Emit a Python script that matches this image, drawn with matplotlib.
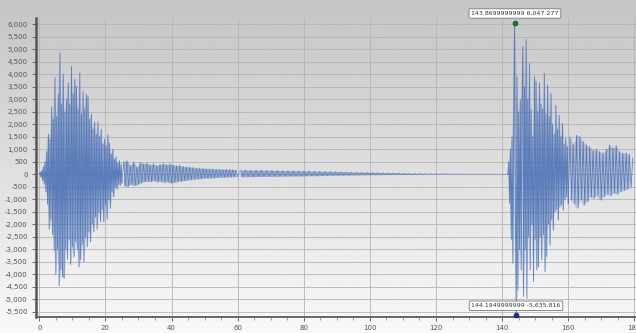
import numpy as np
import matplotlib
matplotlib.use("Agg")
import matplotlib.pyplot as plt
from matplotlib.ticker import FuncFormatter, MultipleLocator

# ---- data (segments: start, step, values) ----
burst1_start, burst1_step = 0.0, 0.25
burst1_vals = [
    0, 80, -120, 150, -250, 300, -400, 500, -700, 900,
    -1200, 1600, -2200, 1400, -1800, 2700, -2400, 2200, -3050, 3850,
    -4000, 2300, -3000, 3200, -4450, 4850, -3800, 2800, -4100, 4000,
    -4150, 2500, -3000, 3000, -3400, 3650, -2600, 2800, -3600, 4300,
    -2900, 3200, -3300, 3800, -2700, 3500, -3000, 2600, -3700, 4050,
    -3400, 2400, -2800, 3300, -3500, 2600, -2500, 3200, -2900, 3100,
    -2300, 2200, -2700, 2400, -2000, 1800, -2300, 2100, -1700, 1600,
    -2200, 2100, -1500, 1500, -1900, 1800, -1400, 1200, -1900, 1400,
    -1200, 1100, -1800, 1600, -1000, 1250, -1350, 800, -700, 1000,
    -900, 600, -500, 700, -600, 450, -400, 550, -450, 400,
    -350,
]

tail1_start, tail1_step = 25.5, 0.5
tail1_vals = [
    500, -450, 550, -500, 350, -400, 500, -450, 300, -420,
    480, -350, 420, -300, 450, -280, 380, -300, 420, -250,
    350, -300, 400, -280, 430, -320, 380, -300, 420, -350,
    370, -330, 350, -300, 360, -280, 320, -260, 300, -240,
    290, -220, 280, -200, 260, -190, 250, -180, 240, -160,
    230, -150, 220, -150, 220, -140, 210, -130, 210, -120,
    200, -120, 200, -110, 190, -110, 190, -100, 180, -100,
]

tail2_start, tail2_step = 60.8, 0.8
tail2_vals = [
    175, -100, 175, -95, 170, -95, 170, -90, 165, -90,
    165, -85, 160, -85, 155, -80, 150, -80, 150, -75,
    145, -75, 140, -70, 140, -65, 135, -60, 130, -60,
    125, -55, 120, -50, 115, -45, 110, -40, 105, -40,
    100, -35, 95, -30, 90, -30, 85, -25, 80, -25,
    75, -20, 70, -20, 65, -15, 60, -15, 55, -10,
    50, -10, 45, -10, 40, -5, 35, -5, 30, -5,
    28, 0, 25, 0, 22, 0, 20, 2, 18, 2,
    15, 3, 12, 3, 10, 4, 8, 4, 6, 5,
    6, 5, 6, 5, 5, 5, 5, 5, 5, 5,
    5, 5,
]

burst2_start, burst2_step = 141.75, 0.25
burst2_vals = [
    0, 500, -1160, 1000, -2620, 1500, -3550, 2500, 6047, -1500,
    -5636, 3900, -4620, 2500, -3000, 3000, -3820, 2800, 5100, -4880,
    3500, -3000, 5380, -4950, 3000, -2500, 4430, -3820, 2600, -2000,
    1500, -4280, 3900, -2600, 3700, -3820, 2500, -3690, 3640, -2500,
    2800, -3430, 2600, -2400, 4030, -3890, 2400, -3290, 3560, -2000,
    2300, -2830, 3230, -1800, 2000, -2230, 1600, -1500, 2760, -1400,
    1800, -1830, 2360, -1300, 1500, -1200, 2030, -1430, 1200, -1000,
    1430, -900, 1100, -1160,
]

tail3_start, tail3_step = 160.5, 0.5
tail3_vals = [
    1500, -1000, 1200, -1160, 1560, -1360, 1500, -1000, 1300, -1230,
    1170, -1100, 1100, -900, 950, -950, 1000, -850, 900, -1030,
    850, -900, 1000, -800, 1170, -850, 1050, -750, 1150, -800,
    900, -700, 850, -650, 850, -600, 800, -550, 650,
]

max_pt = (143.8699999999, 6047.277)
min_pt = (144.1949999999, -5635.816)
max_label = "143.8699999999 6,047.277"
min_label = "144.1949999999 -5,635.816"

segments = [
    (burst1_start, burst1_step, burst1_vals),
    (tail1_start, tail1_step, tail1_vals),
    (tail2_start, tail2_step, tail2_vals),
    (burst2_start, burst2_step, burst2_vals),
    (tail3_start, tail3_step, tail3_vals),
]
# how strongly the fine oscillation fills each segment
fill_alpha = [0.22, 0.45, 0.5, 0.18, 0.3]
line_lw = [0.65, 0.45, 0.35, 0.65, 0.6]

line_col = "#4a70b6"

# ---- figure ----
fig = plt.figure(figsize=(6.36, 3.33), dpi=100)

# grey-to-white background gradient over the whole figure
bg = fig.add_axes([0, 0, 1, 1], zorder=-10)
grad = np.linspace(0.77, 0.975, 256).reshape(-1, 1)
bg.imshow(grad, aspect="auto", cmap="gray", vmin=0, vmax=1,
          extent=[0, 1, 0, 1], origin="upper")
bg.axis("off")

ax = fig.add_axes([36 / 636, 1 - 317 / 333, 604 / 636, 299 / 333])
ax.set_facecolor("none")

prev = None
for (start, step, vals), fa, lw in zip(segments, fill_alpha, line_lw):
    t = start + step * np.arange(len(vals))
    v = np.array(vals, dtype=float)
    n = len(v) // 2 * 2
    pair = v[:n].reshape(-1, 2)
    ax.fill_between(t[0:n:2], pair.max(axis=1), pair.min(axis=1),
                    color=line_col, alpha=fa, lw=0, zorder=2)
    if prev is not None:
        t = np.r_[prev[0], t]
        v = np.r_[prev[1], v]
    ax.plot(t, v, color=line_col, lw=lw, alpha=0.85, zorder=3)
    prev = (t[-1], v[-1])

ax.set_xlim(-1, 181.7)
ax.set_ylim(-5700, 6240)

ax.xaxis.set_major_locator(MultipleLocator(20))
ax.xaxis.set_minor_locator(MultipleLocator(5))
ax.yaxis.set_major_locator(MultipleLocator(500))
ax.yaxis.set_major_formatter(FuncFormatter(lambda v, p: f"{v:,.0f}"))

ax.grid(True, which="major", color="#b4b4b4", lw=0.6)
ax.set_axisbelow(True)

for s in ("top", "right"):
    ax.spines[s].set_visible(False)
ax.spines["left"].set_color("#555555")
ax.spines["left"].set_linewidth(1.8)
ax.spines["bottom"].set_color("#666666")
ax.spines["bottom"].set_linewidth(1.4)

ax.tick_params(axis="both", which="major", labelsize=5, colors="#555555",
               length=3, width=0.6, pad=3)
ax.tick_params(axis="x", which="minor", length=2, width=0.5, colors="#777777")

# max / min markers and their labels
ax.plot(*max_pt, "o", color="#1f7a2e", ms=3.5, mec="#0d4a18", mew=0.5,
        zorder=5, clip_on=False)
ax.plot(*min_pt, "o", color="#1f2fa0", ms=3.5, mec="#0d1560", mew=0.5,
        zorder=5, clip_on=False)
box = dict(boxstyle="round,pad=0.35,rounding_size=0.15", fc="white",
           ec="#777777", lw=0.6)
ax.text(max_pt[0], 6420, max_label, ha="center", va="center", fontsize=4.5,
        color="#333333", bbox=box, zorder=6, clip_on=False)
ax.text(min_pt[0], -5250, min_label, ha="center", va="center", fontsize=4.5,
        color="#333333", bbox=box, zorder=6)

fig.savefig("out.png", dpi=100)
